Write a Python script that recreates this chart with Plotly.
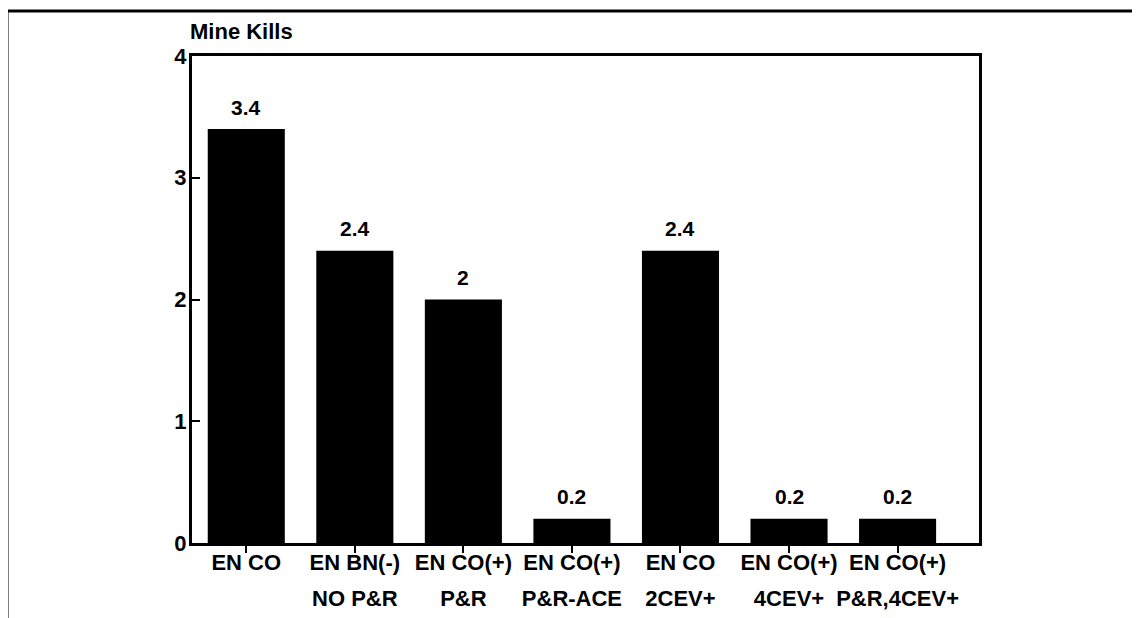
import plotly.graph_objects as go

categories_line1 = ["EN CO", "EN BN(-)", "EN CO(+)", "EN CO(+)", "EN CO", "EN CO(+)", "EN CO(+)"]
categories_line2 = ["", "NO P&R", "P&R", "P&R-ACE", "2CEV+", "4CEV+", "P&R,4CEV+"]
mine_kills = [3.4, 2.4, 2.0, 0.2, 2.4, 0.2, 0.2]
value_labels = ["3.4", "2.4", "2", "0.2", "2.4", "0.2", "0.2"]
y_ticks = [0, 1, 2, 3, 4]

positions = list(range(len(categories_line1)))
FONT = "Liberation Sans"
OFF = 8  # page body margin

fig = go.Figure()
fig.add_trace(go.Bar(
    x=positions, y=mine_kills, width=0.71,
    marker=dict(color="black", line=dict(width=0)),
    hoverinfo="skip", showlegend=False,
))
# carrier trace for the second line of category labels
fig.add_trace(go.Scatter(
    x=positions, y=mine_kills, xaxis="x2", yaxis="y", mode="markers",
    marker=dict(opacity=0, size=1), hoverinfo="skip", showlegend=False,
))

for xv, yv, lab in zip(positions, mine_kills, value_labels):
    fig.add_annotation(x=xv, y=yv, text=lab, showarrow=False,
                       xref="x", yref="y", yanchor="middle", yshift=22,
                       font=dict(family=FONT, size=21, color="black", weight="bold"))

fig.update_layout(
    width=1140, height=618,
    margin=dict(l=192 - OFF, r=161 + OFF, t=56 - OFF, b=75 + OFF),
    paper_bgcolor="white", plot_bgcolor="white",
    title=dict(text="Mine Kills", x=(190 - OFF)/1140, xanchor="left", xref="container",
               y=1 - (31 - OFF)/618, yanchor="middle", yref="container",
               font=dict(family=FONT, size=22, color="black", weight="bold")),
    xaxis=dict(range=[-0.5, 6.75], tickvals=positions, ticktext=categories_line1,
               showline=True, linecolor="black", linewidth=3, mirror=True,
               ticks="outside", ticklen=7, tickwidth=2, tickcolor="black",
               showgrid=False, zeroline=False, ticklabelstandoff=-9,
               tickfont=dict(family=FONT, size=22, color="black", weight="bold")),
    xaxis2=dict(range=[-0.5, 6.75], tickvals=positions, ticktext=categories_line2,
                overlaying="x", anchor="y", side="bottom",
                showline=False, ticks="", showgrid=False, zeroline=False,
                ticklabelstandoff=40,
                tickfont=dict(family=FONT, size=22, color="black", weight="bold")),
    yaxis=dict(range=[0, 4], tickvals=y_ticks, ticktext=[str(v) for v in y_ticks],
               showline=True, linecolor="black", linewidth=3, mirror=True,
               ticks="inside", ticklen=8, tickwidth=2, tickcolor="black",
               showgrid=False, zeroline=False, ticklabelstandoff=-2,
               tickfont=dict(family=FONT, size=22, color="black", weight="bold")),
)

# outer page frame (top and left edges)
fig.add_shape(type="line", xref="paper", yref="paper",
              x0=(7-192)/787, x1=(1140-192)/787, y0=(543-11)/487, y1=(543-11)/487,
              line=dict(color="black", width=3))
fig.add_shape(type="line", xref="paper", yref="paper",
              x0=(7-192)/787, x1=(7-192)/787, y0=(543-11)/487, y1=(543-620)/487,
              line=dict(color="black", width=3))

fig.write_html("out.html")
